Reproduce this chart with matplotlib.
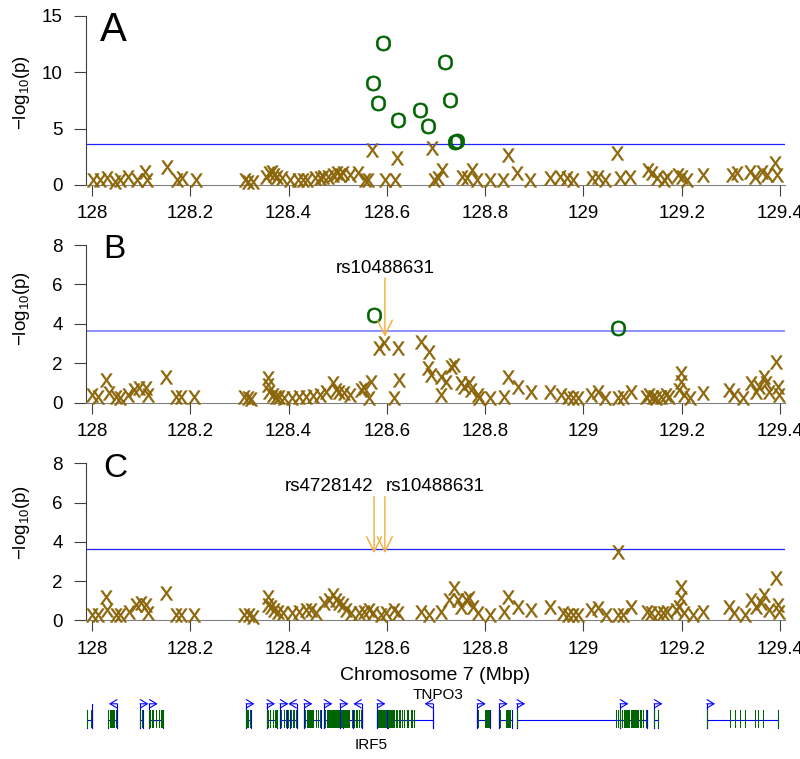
import matplotlib
matplotlib.use("Agg")
import matplotlib.pyplot as plt
from matplotlib.patches import Rectangle

plt.rcParams['font.family'] = ['Liberation Sans', 'DejaVu Sans']
plt.rcParams['mathtext.fontset'] = 'custom'
plt.rcParams['mathtext.rm'] = 'Liberation Sans'
plt.rcParams['mathtext.it'] = 'Liberation Sans:italic'

# ---- data (positions in Mbp, values -log10 p) ----
a_pos = [128.003, 128.016, 128.030, 128.047, 128.057, 128.074, 128.091, 128.108, 128.111, 128.152,
         128.172, 128.183, 128.212, 128.311, 128.318, 128.328, 128.355, 128.360, 128.366, 128.371,
         128.376, 128.386, 128.403, 128.420, 128.430, 128.437, 128.454, 128.463, 128.471, 128.481,
         128.491, 128.498, 128.505, 128.511, 128.525, 128.542, 128.556, 128.562, 128.569, 128.596,
         128.617, 128.620, 128.691, 128.695, 128.705, 128.712, 128.752, 128.763, 128.773, 128.783,
         128.810, 128.837, 128.847, 128.864, 128.891, 128.932, 128.952, 128.966, 128.979, 129.017,
         129.030, 129.044, 129.068, 129.074, 129.095, 129.132, 129.139, 129.149, 129.163, 129.170,
         129.193, 129.200, 129.210, 129.244, 129.302, 129.312, 129.339, 129.349, 129.363, 129.373,
         129.390, 129.394]
a_val = [0.44, 0.44, 0.59, 0.30, 0.44, 0.74, 0.44, 1.18, 0.44, 1.63,
         0.44, 0.59, 0.44, 0.44, 0.30, 0.30, 0.74, 1.04, 1.18, 0.89,
         0.74, 0.59, 0.44, 0.44, 0.44, 0.44, 0.59, 0.59, 0.74, 0.74,
         0.89, 1.04, 0.89, 1.04, 0.89, 1.04, 0.44, 0.44, 3.10, 0.44,
         0.44, 2.37, 3.25, 0.44, 0.59, 1.33, 0.74, 0.59, 1.33, 0.44,
         0.44, 0.44, 2.66, 1.04, 0.44, 0.59, 0.74, 0.59, 0.44, 0.59,
         0.74, 0.44, 2.80, 0.59, 0.74, 1.33, 1.04, 0.59, 0.44, 0.74,
         0.89, 0.74, 0.44, 0.89, 0.89, 1.04, 1.18, 0.74, 1.18, 0.89,
         1.92, 0.89]
a_sig_pos = [128.572, 128.583, 128.593, 128.623, 128.667, 128.684, 128.718, 128.729, 128.739, 128.742]
a_sig_val = [9.02, 7.25, 12.57, 5.77, 6.65, 5.23, 10.94, 7.54, 3.84, 3.90]

b_pos = [128.001, 128.012, 128.028, 128.035, 128.049, 128.056, 128.073, 128.086, 128.096, 128.110,
         128.113, 128.151, 128.171, 128.181, 128.208, 128.310, 128.317, 128.324, 128.358, 128.358,
         128.361, 128.368, 128.374, 128.381, 128.391, 128.408, 128.422, 128.435, 128.449, 128.463,
         128.476, 128.490, 128.497, 128.503, 128.513, 128.524, 128.547, 128.554, 128.564, 128.568,
         128.585, 128.595, 128.615, 128.622, 128.625, 128.670, 128.683, 128.686, 128.690, 128.710,
         128.710, 128.720, 128.731, 128.737, 128.751, 128.758, 128.768, 128.771, 128.785, 128.788,
         128.809, 128.839, 128.846, 128.866, 128.893, 128.931, 128.954, 128.968, 128.978, 128.988,
         129.015, 129.029, 129.043, 129.070, 129.080, 129.097, 129.127, 129.134, 129.141, 129.148,
         129.158, 129.168, 129.175, 129.195, 129.199, 129.199, 129.205, 129.216, 129.243, 129.297,
         129.307, 129.324, 129.341, 129.351, 129.358, 129.368, 129.372, 129.378, 129.392, 129.395,
         129.399]
b_val = [0.39, 0.27, 1.15, 0.48, 0.31, 0.22, 0.39, 0.64, 0.73, 0.73,
         0.39, 1.32, 0.27, 0.27, 0.27, 0.27, 0.22, 0.17, 1.24, 0.90,
         0.56, 0.39, 0.31, 0.31, 0.22, 0.22, 0.27, 0.27, 0.34, 0.39,
         0.56, 0.98, 0.64, 0.56, 0.48, 0.39, 0.64, 0.73, 0.22, 1.07,
         2.76, 3.01, 0.22, 2.76, 1.15, 3.10, 1.74, 2.59, 1.41, 1.32,
         0.39, 1.07, 1.83, 1.91, 0.98, 0.81, 0.98, 0.64, 0.39, 0.22,
         0.22, 0.31, 1.32, 0.81, 0.56, 0.56, 0.39, 0.31, 0.22, 0.22,
         0.39, 0.56, 0.22, 0.22, 0.31, 0.56, 0.31, 0.39, 0.31, 0.22,
         0.31, 0.39, 0.31, 0.64, 1.49, 1.07, 0.39, 0.22, 0.48, 0.64,
         0.39, 0.22, 0.98, 0.56, 0.81, 1.32, 0.98, 0.56, 2.08, 0.81,
         0.39]
b_sig_pos = [128.574, 129.070]
b_sig_val = [4.45, 3.78]

c_pos = [128.001, 128.012, 128.028, 128.031, 128.049, 128.056, 128.076, 128.090, 128.100, 128.110,
         128.113, 128.151, 128.171, 128.181, 128.208, 128.310, 128.320, 128.327, 128.358, 128.358,
         128.364, 128.371, 128.378, 128.388, 128.408, 128.422, 128.435, 128.445, 128.456, 128.473,
         128.483, 128.490, 128.497, 128.503, 128.510, 128.517, 128.527, 128.544, 128.554, 128.564,
         128.571, 128.588, 128.598, 128.615, 128.622, 128.669, 128.686, 128.710, 128.727, 128.737,
         128.744, 128.751, 128.761, 128.768, 128.775, 128.785, 128.809, 128.839, 128.846, 128.866,
         128.893, 128.931, 128.958, 128.968, 128.978, 128.988, 129.015, 129.029, 129.046, 129.070,
         129.070, 129.080, 129.097, 129.130, 129.137, 129.151, 129.161, 129.171, 129.188, 129.195,
         129.199, 129.199, 129.205, 129.222, 129.243, 129.297, 129.307, 129.328, 129.341, 129.351,
         129.361, 129.368, 129.378, 129.392, 129.395, 129.399]
c_val = [0.27, 0.27, 1.21, 0.53, 0.27, 0.27, 0.44, 0.78, 0.87, 0.78,
         0.36, 1.38, 0.27, 0.27, 0.27, 0.27, 0.27, 0.19, 1.21, 0.78,
         0.70, 0.53, 0.44, 0.36, 0.36, 0.44, 0.53, 0.53, 0.36, 0.87,
         1.04, 1.29, 1.04, 0.87, 0.78, 0.53, 0.36, 0.36, 0.44, 0.53,
         0.36, 0.27, 0.36, 0.53, 0.36, 0.44, 0.27, 0.44, 1.04, 1.63,
         1.04, 0.70, 1.04, 1.12, 0.70, 0.36, 0.27, 0.44, 1.21, 0.70,
         0.53, 0.70, 0.36, 0.27, 0.27, 0.27, 0.53, 0.61, 0.27, 0.27,
         3.50, 0.27, 0.70, 0.44, 0.36, 0.36, 0.36, 0.44, 0.53, 0.70,
         1.71, 1.12, 0.36, 0.27, 0.44, 0.70, 0.36, 0.27, 1.04, 0.70,
         0.87, 1.29, 0.53, 2.14, 0.78, 0.44]

threshold = 3.65
snp_pos = {'rs10488631': 128.596, 'rs4728142': 128.574}

# genes: start, end, strand, exons
gene_start = [127.9904, 128.0332, 128.0977, 128.1166, 128.3134, 128.3555, 128.3826, 128.3962, 128.4314,
              128.4721, 128.5047, 128.5318, 128.5800, 128.6024, 128.7841, 128.8289, 128.8643, 129.0745,
              129.1437, 129.2509]
gene_end = [127.9994, 128.0515, 128.1032, 128.1451, 128.3230, 128.3759, 128.4029, 128.4166, 128.4654,
            128.5114, 128.5318, 128.5488, 128.6003, 128.6939, 128.8099, 128.8541, 129.1288, 129.1294,
            129.1524, 129.3966]
gene_strand = ['-', '-', '+', '+', '+', '+', '+', '-', '+', '+', '+', '-', '+', '-', '+', '+', '+', '+', '+', '+']
gene_exons = [
    [(127.990, 127.991), (127.997, 127.999)],
    [(128.033, 128.034), (128.037, 128.046), (128.048, 128.050)],
    [(128.098, 128.099), (128.102, 128.103)],
    [(128.117, 128.118), (128.123, 128.124), (128.130, 128.131), (128.136, 128.137), (128.141, 128.142), (128.144, 128.145)],
    [(128.314, 128.315), (128.317, 128.319), (128.321, 128.322)],
    [(128.357, 128.358), (128.362, 128.364), (128.368, 128.369), (128.372, 128.373), (128.375, 128.376)],
    [(128.384, 128.385), (128.390, 128.391), (128.395, 128.396)],
    [(128.399, 128.400), (128.405, 128.406), (128.410, 128.411), (128.415, 128.416)],
    [(128.433, 128.434), (128.437, 128.452), (128.455, 128.456), (128.460, 128.461), (128.464, 128.465)],
    [(128.474, 128.476), (128.478, 128.505), (128.508, 128.510)],
    [(128.507, 128.526), (128.529, 128.530)],
    [(128.533, 128.534), (128.538, 128.539), (128.543, 128.544), (128.547, 128.548)],
    [(128.581, 128.582), (128.585, 128.586), (128.588, 128.589), (128.591, 128.593), (128.595, 128.596), (128.598, 128.600)],
    [(128.603, 128.604), (128.606, 128.607), (128.609, 128.610), (128.612, 128.613), (128.615, 128.616), (128.618, 128.619),
     (128.621, 128.622), (128.624, 128.625), (128.627, 128.628), (128.630, 128.632), (128.634, 128.635), (128.640, 128.641),
     (128.643, 128.644), (128.650, 128.651), (128.655, 128.656)],
    [(128.785, 128.786), (128.800, 128.809)],
    [(128.830, 128.831), (128.843, 128.853)],
    [(128.865, 128.866), (129.066, 129.067), (129.070, 129.071), (129.074, 129.076), (129.078, 129.080), (129.083, 129.094),
     (129.098, 129.099), (129.104, 129.105), (129.110, 129.112), (129.116, 129.117), (129.121, 129.122), (129.127, 129.128)],
    [(129.090, 129.091), (129.096, 129.112)],
    [(129.144, 129.145), (129.151, 129.152)],
    [(129.251, 129.252), (129.298, 129.299), (129.308, 129.309), (129.318, 129.319), (129.328, 129.329),
     (129.349, 129.350), (129.355, 129.356), (129.365, 129.366), (129.395, 129.397)],
]
gene_names = {'TNPO3': 128.704, 'IRF5': 128.569}

xticks = [128, 128.2, 128.4, 128.6, 128.8, 129, 129.2, 129.4]
xticklabels = ['128', '128.2', '128.4', '128.6', '128.8', '129', '129.2', '129.4']

# ---- style ----
brown = '#8B6508'
green = '#006400'
orange = '#F2AE3A'
xlim = (127.9878, 129.4102)
fs = 13.5

fig = plt.figure(figsize=(8, 7.59), dpi=100)


def setup(ax, ymax, yticks):
    ax.set_xlim(*xlim)
    ax.set_ylim(0, ymax)
    for s in ['top', 'right']:
        ax.spines[s].set_visible(False)
    ax.spines['left'].set_color('#404040')
    ax.spines['bottom'].set_color('#808080')
    ax.set_xticks(xticks)
    ax.set_xticklabels(xticklabels)
    ax.set_yticks(yticks)
    ax.tick_params(axis='x', length=7.6, pad=7, labelsize=fs, color='#404040')
    ax.tick_params(axis='y', length=8.6, pad=8, labelsize=fs, color='#404040')
    ax.set_ylabel(r'$\mathrm{-log_{10}(p)}$', fontsize=fs)


def xs(ax, pos, val):
    ax.scatter(pos, val, marker=r'$\mathrm{X}$', s=95, color=brown, linewidths=0.4, clip_on=False, zorder=3)


def os_(ax, pos, val):
    ax.scatter(pos, val, marker=r'$\mathrm{O}$', s=120, color=green, linewidths=0.4, clip_on=False, zorder=3)


def arrow(ax, x, y0, y1):
    ax.annotate('', xy=(x, y1), xytext=(x, y0),
                arrowprops=dict(arrowstyle='->,head_length=0.6,head_width=0.3', color=orange, lw=1,
                                mutation_scale=18, shrinkA=0, shrinkB=0))


# panel A
axA = fig.add_axes([0.1075, 0.7563, 0.87375, 0.2227])
setup(axA, 15, [0, 5, 10, 15])
axA.axhline(threshold, color='#2020FF', lw=0.9)
xs(axA, a_pos, a_val)
os_(axA, a_sig_pos, a_sig_val)
axA.yaxis.set_label_coords(-0.077, 0.55)

# panel B
axB = fig.add_axes([0.1075, 0.4694, 0.87375, 0.2078])
setup(axB, 8, [0, 2, 4, 6, 8])
axB.axhline(threshold, color='#7070FF', lw=1.1)
xs(axB, b_pos, b_val)
os_(axB, b_sig_pos, b_sig_val)
arrow(axB, snp_pos['rs10488631'], 6.33, 3.35)
axB.text(snp_pos['rs10488631'], 6.4, 'rs10488631', ha='center', va='bottom', fontsize=fs)
axB.yaxis.set_label_coords(-0.077, 0.60)

# panel C
axC = fig.add_axes([0.1075, 0.1827, 0.87375, 0.2069])
setup(axC, 8, [0, 2, 4, 6, 8])
axC.axhline(threshold, color='#2020FF', lw=0.9)
xs(axC, c_pos, c_val)
arrow(axC, snp_pos['rs4728142'], 6.3, 3.42)
arrow(axC, snp_pos['rs10488631'], 6.3, 3.42)
axC.text(snp_pos['rs4728142'] - 0.002, 6.4, 'rs4728142', ha='right', va='bottom', fontsize=fs)
axC.text(snp_pos['rs10488631'] + 0.001, 6.4, 'rs10488631', ha='left', va='bottom', fontsize=fs)
axC.yaxis.set_label_coords(-0.077, 0.62)
axC.set_xlabel('Chromosome 7 (Mbp)', fontsize=14)
axC.xaxis.set_label_coords(0.5, -0.30)
axC.xaxis.label.set_va('top')

# panel letters
fig.text(100 / 800, 1 - 41 / 759, 'A', fontsize=29, ha='left', va='baseline')
fig.text(103 / 800, 1 - 258 / 759, 'B', fontsize=24, ha='left', va='baseline')
fig.text(103 / 800, 1 - 477 / 759, 'C', fontsize=24, ha='left', va='baseline')

# gene track
axG = fig.add_axes([0.1075, 1 - 735 / 759, 0.87375, 40 / 759])
axG.set_xlim(*xlim)
axG.set_ylim(0, 1)
axG.axis('off')
for st, en, strand, exons in zip(gene_start, gene_end, gene_strand, gene_exons):
    axG.plot([st, en], [0.375, 0.375], color='blue', lw=0.8)
    axG.plot([st, st], [0.175, 0.625], color='blue', lw=0.8)
    axG.plot([en, en], [0.175, 0.625], color='blue', lw=0.8)
    tss = st if strand == '+' else en
    d = 0.017 if strand == '+' else -0.017
    axG.plot([tss, tss], [0.175, 0.78], color='blue', lw=0.8)
    axG.annotate('', xy=(tss + d, 0.78), xytext=(tss, 0.78),
                 arrowprops=dict(arrowstyle='->,head_length=0.5,head_width=0.3', color='blue', lw=0.8,
                                 mutation_scale=10, shrinkA=0, shrinkB=0))
    for e0, e1 in exons:
        axG.add_patch(Rectangle((e0, 0.175), max(e1 - e0, 0.0025), 0.45, color=green, lw=0, zorder=3))
axG.text(gene_names['TNPO3'], 1.0, 'TNPO3', ha='center', va='center', fontsize=11)
axG.text(gene_names['IRF5'], -0.25, 'IRF5', ha='center', va='center', fontsize=11)

fig.savefig('out.png', dpi=100)
